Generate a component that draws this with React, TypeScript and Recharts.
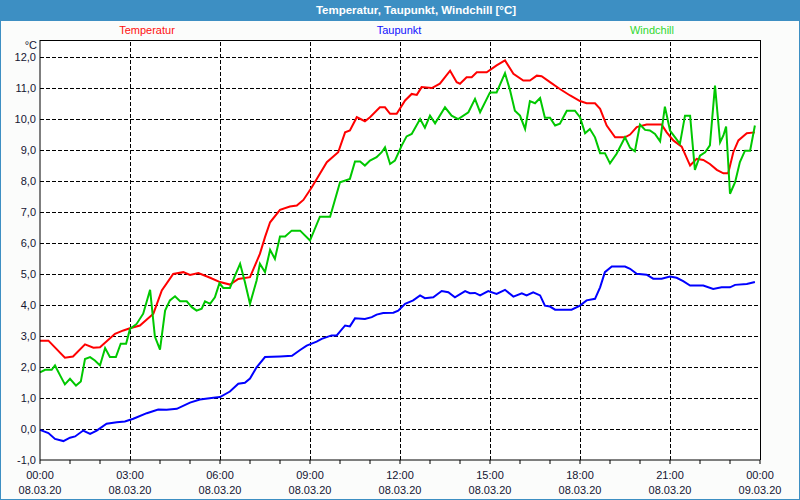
import { LineChart, Line, XAxis, YAxis, ReferenceLine, ReferenceArea } from 'recharts';

// hours since 08.03.20 00:00 and value in °C
const tempHours = [0, 0.28, 0.83, 1.1, 1.5, 1.78, 2, 2.5, 2.78, 3, 3.33, 3.78, 4.06, 4.44, 4.78, 5, 5.28, 5.67, 6, 6.33, 6.61, 7, 7.33, 7.5, 7.67, 8, 8.33, 8.56, 8.78, 9.06, 9.56, 9.94, 10.17, 10.33, 10.56, 10.83, 11, 11.33, 11.5, 11.67, 11.89, 12.17, 12.39, 12.56, 12.72, 13.06, 13.33, 13.67, 13.89, 14, 14.22, 14.39, 14.56, 14.89, 15.22, 15.5, 15.78, 16.11, 16.33, 16.56, 16.72, 17, 17.33, 17.67, 18, 18.22, 18.5, 18.67, 18.89, 19.17, 19.5, 19.67, 19.89, 20.22, 20.44, 20.72, 20.89, 21.11, 21.39, 21.67, 21.89, 22.11, 22.33, 22.56, 22.78, 22.94, 23.11, 23.28, 23.56, 23.83];
const tempValues = [2.85, 2.85, 2.3, 2.34, 2.73, 2.62, 2.64, 3.07, 3.18, 3.25, 3.34, 3.72, 4.47, 5.0, 5.06, 4.97, 5.03, 4.88, 4.74, 4.66, 4.84, 4.9, 5.65, 6.19, 6.67, 7.07, 7.18, 7.21, 7.39, 7.8, 8.61, 8.93, 9.57, 9.63, 10.06, 9.93, 10.06, 10.38, 10.38, 10.17, 10.17, 10.6, 10.81, 10.78, 11.03, 11.0, 11.14, 11.56, 11.19, 11.14, 11.35, 11.35, 11.51, 11.51, 11.73, 11.89, 11.46, 11.24, 11.24, 11.4, 11.38, 11.19, 10.97, 10.76, 10.58, 10.51, 10.51, 10.33, 9.79, 9.41, 9.41, 9.5, 9.74, 9.82, 9.82, 9.82, 9.57, 9.31, 9.11, 8.5, 8.72, 8.68, 8.55, 8.36, 8.25, 8.25, 8.93, 9.31, 9.54, 9.57];

const dewHours = [0, 0.28, 0.5, 0.78, 1, 1.17, 1.44, 1.67, 1.89, 2.22, 2.56, 2.83, 3.11, 3.56, 3.94, 4.22, 4.56, 5, 5.33, 5.78, 6, 6.33, 6.61, 6.83, 7, 7.22, 7.5, 8, 8.4, 8.67, 8.89, 9.22, 9.39, 9.72, 9.89, 10.17, 10.33, 10.5, 10.83, 11.06, 11.22, 11.44, 11.78, 11.94, 12.17, 12.44, 12.67, 12.83, 13.11, 13.39, 13.61, 13.83, 14.17, 14.33, 14.5, 14.67, 14.94, 15.22, 15.5, 15.78, 16.06, 16.22, 16.44, 16.67, 16.83, 17, 17.17, 17.72, 18, 18.22, 18.5, 18.67, 18.83, 19.06, 19.5, 19.67, 19.89, 20.22, 20.44, 20.72, 21, 21.22, 21.44, 21.67, 22.11, 22.44, 22.72, 23, 23.17, 23.56, 23.83];
const dewValues = [-0.03, -0.13, -0.32, -0.39, -0.28, -0.24, -0.05, -0.16, -0.05, 0.17, 0.22, 0.24, 0.33, 0.51, 0.63, 0.62, 0.65, 0.85, 0.95, 1.01, 1.03, 1.21, 1.46, 1.49, 1.63, 1.99, 2.32, 2.34, 2.36, 2.55, 2.69, 2.82, 2.91, 3.02, 3.02, 3.34, 3.31, 3.57, 3.55, 3.61, 3.69, 3.74, 3.75, 3.82, 4.04, 4.15, 4.31, 4.22, 4.25, 4.45, 4.41, 4.25, 4.45, 4.38, 4.39, 4.31, 4.45, 4.36, 4.49, 4.27, 4.38, 4.31, 4.41, 4.31, 3.98, 3.95, 3.85, 3.85, 3.98, 4.15, 4.2, 4.57, 5.06, 5.24, 5.24, 5.17, 5.01, 4.98, 4.85, 4.85, 4.92, 4.88, 4.77, 4.63, 4.63, 4.52, 4.57, 4.57, 4.65, 4.68, 4.74];

const chillHours = [0, 0.17, 0.39, 0.5, 0.67, 0.83, 1, 1.2, 1.36, 1.5, 1.67, 1.83, 2, 2.17, 2.33, 2.53, 2.69, 2.87, 3, 3.22, 3.44, 3.67, 3.83, 4, 4.17, 4.33, 4.5, 4.67, 4.89, 5.06, 5.22, 5.39, 5.5, 5.67, 5.83, 5.98, 6.11, 6.33, 6.5, 6.67, 6.83, 7, 7.22, 7.33, 7.5, 7.67, 7.83, 8, 8.17, 8.39, 8.67, 9, 9.33, 9.67, 10, 10.33, 10.5, 10.67, 10.83, 11, 11.22, 11.39, 11.5, 11.67, 11.83, 12.06, 12.22, 12.39, 12.67, 12.83, 13, 13.17, 13.5, 13.72, 13.94, 14.28, 14.5, 14.67, 15, 15.22, 15.5, 15.67, 15.83, 16, 16.17, 16.33, 16.5, 16.67, 16.83, 17, 17.17, 17.33, 17.56, 17.83, 18, 18.17, 18.33, 18.5, 18.67, 18.83, 19, 19.22, 19.5, 19.67, 19.83, 20, 20.17, 20.33, 20.5, 20.67, 20.83, 21, 21.17, 21.33, 21.5, 21.67, 21.83, 22, 22.17, 22.33, 22.5, 22.67, 22.78, 22.87, 23, 23.17, 23.33, 23.5, 23.67, 23.83];
const chillValues = [1.83, 1.91, 1.91, 2.05, 1.73, 1.44, 1.62, 1.4, 1.53, 2.26, 2.32, 2.21, 2.05, 2.61, 2.32, 2.32, 2.75, 2.75, 3.23, 3.39, 3.72, 4.49, 2.98, 2.56, 3.82, 4.15, 4.28, 4.12, 4.12, 3.93, 3.82, 3.88, 4.12, 4.04, 4.25, 4.7, 4.55, 4.55, 4.95, 5.33, 4.74, 4.04, 4.79, 5.33, 5.06, 5.78, 5.49, 6.21, 6.21, 6.4, 6.4, 6.08, 6.85, 6.85, 7.96, 8.07, 8.63, 8.63, 8.5, 8.66, 8.77, 8.93, 9.09, 8.55, 8.66, 9.15, 9.44, 9.52, 10.0, 9.72, 10.11, 9.86, 10.38, 10.11, 10.0, 10.22, 10.65, 10.22, 10.86, 10.86, 11.48, 10.92, 10.27, 10.11, 9.68, 10.58, 10.51, 10.68, 10.04, 10.04, 9.79, 9.85, 10.27, 10.27, 10.06, 9.54, 9.68, 9.41, 8.9, 8.9, 8.57, 8.88, 9.41, 9.07, 8.96, 9.82, 9.65, 9.63, 9.52, 9.28, 10.4, 9.63, 9.41, 9.2, 10.11, 10.11, 8.36, 8.82, 8.93, 9.15, 11.08, 9.25, 9.47, 9.76, 7.59, 7.96, 8.61, 8.98, 8.98, 9.79];

const hourTicks = [0, 1, 2, 3, 4, 5, 6, 7, 8, 9, 10, 11, 12, 13, 14, 15, 16, 17, 18, 19, 20, 21, 22, 23, 24];
const gridHours = [3, 6, 9, 12, 15, 18, 21];
const timeLabels = ['00:00', '03:00', '06:00', '09:00', '12:00', '15:00', '18:00', '21:00', '00:00'];
const dateLabels = ['08.03.20', '08.03.20', '08.03.20', '08.03.20', '08.03.20', '08.03.20', '08.03.20', '08.03.20', '09.03.20'];
const yTicks = [-1, 0, 1, 2, 3, 4, 5, 6, 7, 8, 9, 10, 11, 12];
const gridValues = [0, 1, 2, 3, 4, 5, 6, 7, 8, 9, 10, 11, 12];

const FONT = '"Liberation Sans", Arial, sans-serif';
const TEXT = '#141432';

const toRows = (hours: number[], values: number[]) => hours.map((t, i) => ({ t, v: values[i] }));

function HourTick(props: any) {
  const { x, y, payload } = props;
  if (payload.value % 3 !== 0) return null;
  const i = payload.value / 3;
  return (
    <g>
      <text x={x} y={y} dy={13} textAnchor="middle" fontSize={11} fontFamily={FONT} fill={TEXT}>
        {timeLabels[i]}
      </text>
      <text x={x} y={y} dy={27.5} textAnchor="middle" fontSize={11} fontFamily={FONT} fill={TEXT}>
        {dateLabels[i]}
      </text>
    </g>
  );
}

export default function App() {
  const temp = toRows(tempHours, tempValues);
  const dew = toRows(dewHours, dewValues);
  const chill = toRows(chillHours, chillValues);

  return (
    <div
      style={{
        position: 'absolute',
        left: 0,
        top: 0,
        width: 800,
        height: 500,
        boxSizing: 'border-box',
        border: '1px solid #3d8fc3',
        background: '#fbfcfb',
        fontFamily: FONT,
      }}
    >
      <div
        style={{
          position: 'absolute',
          left: -1,
          top: -1,
          width: 800,
          height: 21,
          background: '#3d8fc3',
          color: '#fff',
          fontWeight: 'bold',
          fontSize: 11.5,
          lineHeight: '21px',
        }}
      >
        <span style={{ position: 'absolute', left: 416, transform: 'translateX(-50%)', whiteSpace: 'nowrap' }}>
          Temperatur, Taupunkt, Windchill [°C]
        </span>
      </div>
      {[
        { label: 'Temperatur', color: '#ff1010', cx: 147 },
        { label: 'Taupunkt', color: '#1010ff', cx: 399 },
        { label: 'Windchill', color: '#30d830', cx: 652 },
      ].map((s) => (
        <span
          key={s.label}
          style={{
            position: 'absolute',
            left: s.cx - 1,
            top: 23,
            transform: 'translateX(-50%)',
            color: s.color,
            fontSize: 11,
            whiteSpace: 'nowrap',
          }}
        >
          {s.label}
        </span>
      ))}
      <span style={{ position: 'absolute', right: 800 - 38, top: 38, fontSize: 11, color: TEXT }}>°C</span>

      <div style={{ position: 'absolute', left: -1, top: -1 }}>
        <LineChart width={800} height={500} margin={{ top: 40, right: 40, bottom: 0, left: 0 }}>
          <XAxis
            dataKey="t"
            type="number"
            domain={[0, 24]}
            ticks={hourTicks}
            interval={0}
            height={40}
            tickSize={4}
            tickMargin={2}
            stroke="#000"
            tick={<HourTick />}
            allowDuplicatedCategory={false}
          />
          <YAxis
            type="number"
            domain={[-1, 12.55]}
            ticks={yTicks}
            interval={0}
            width={40}
            tickLine={false}
            tickSize={0}
            tickMargin={4}
            stroke="#000"
            tick={{ fontSize: 11, fontFamily: FONT, fill: TEXT }}
            tickFormatter={(v: number) => v.toFixed(1).replace('.', ',')}
          />
          <ReferenceArea x1={0} x2={24} y1={-1} y2={12.55} fill="#fff" fillOpacity={1} stroke="none" />
          {gridValues.map((v) => (
            <ReferenceLine key={'y' + v} y={v} stroke="#000" strokeDasharray="4 2" shapeRendering="crispEdges" />
          ))}
          {gridHours.map((h) => (
            <ReferenceLine key={'x' + h} x={h} stroke="#000" strokeDasharray="4 2" shapeRendering="crispEdges" />
          ))}
          <ReferenceLine y={12.55} stroke="#000" shapeRendering="crispEdges" />
          <ReferenceLine x={24} stroke="#000" shapeRendering="crispEdges" />
          <Line data={dew} dataKey="v" type="linear" stroke="#0000ff" strokeWidth={2} dot={false} isAnimationActive={false} />
          <Line data={temp} dataKey="v" type="linear" stroke="#ff0000" strokeWidth={2} dot={false} isAnimationActive={false} />
          <Line data={chill} dataKey="v" type="linear" stroke="#00c800" strokeWidth={2} dot={false} isAnimationActive={false} />
        </LineChart>
      </div>
    </div>
  );
}
